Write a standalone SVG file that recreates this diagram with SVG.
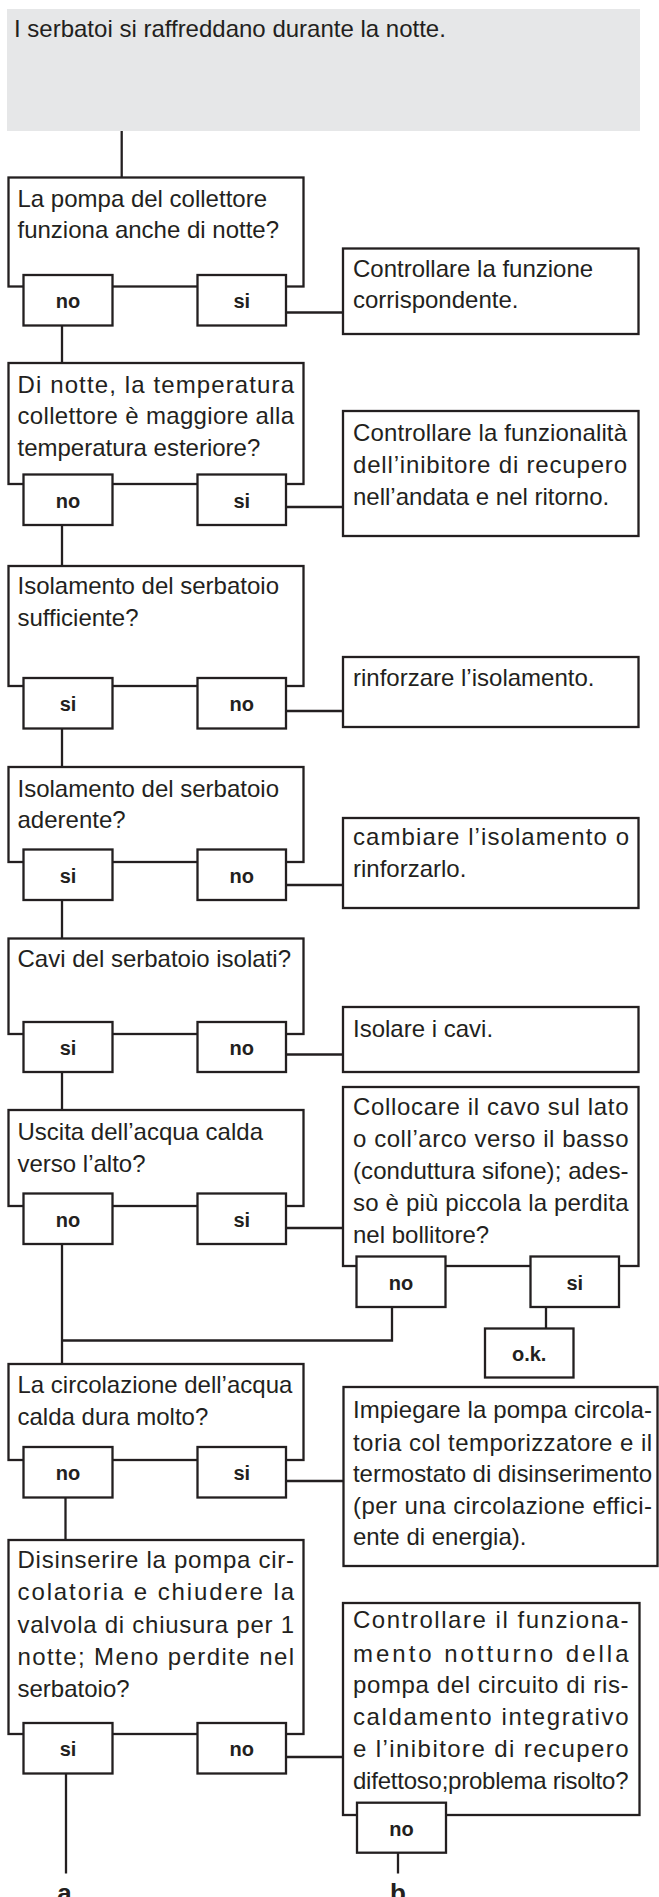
<svg xmlns="http://www.w3.org/2000/svg" width="659" height="1897" viewBox="0 0 659 1897">
<style>
.box{fill:#fff;stroke:#231f20;stroke-width:2.3}
.hdr{fill:#e6e7e8}
.t{font-family:"Liberation Sans",Arial,sans-serif;font-size:24px;fill:#231f20}
.b{font-family:"Liberation Sans",Arial,sans-serif;font-weight:bold;font-size:20px;fill:#231f20;text-anchor:middle}
.L{font-family:"Liberation Sans",Arial,sans-serif;font-weight:bold;font-size:26px;fill:#231f20;text-anchor:middle}
.c{fill:none;stroke:#231f20;stroke-width:2.3}
</style>
<g id="connectors" class="c">
<path d="M121.7 131V177.5"/>
<path d="M286 312.5H343"/>
<path d="M62 325.5V363"/>
<path d="M286 507H343"/>
<path d="M62 525V566"/>
<path d="M286 711H343"/>
<path d="M62 728.5V767"/>
<path d="M286 885H343"/>
<path d="M62 900V938.5"/>
<path d="M286 1054.5H343"/>
<path d="M62 1072V1110"/>
<path d="M286 1228H343"/>
<path d="M62 1244V1364"/>
<path d="M392 1307V1340.5H62"/>
<path d="M546 1307V1328.5"/>
<path d="M286 1481H343.5"/>
<path d="M65.5 1497.5V1540"/>
<path d="M286 1757H343"/>
<path d="M66 1773.5V1873.5"/>
<path d="M398 1852.7V1873.5"/>
</g>
<g id="start">
<rect class="hdr" x="7" y="9" width="633" height="122"/>
<text class="t" x="14" y="37">I serbatoi si raffreddano durante la notte.</text>
</g>
<g id="q1">
<rect class="box" x="8.5" y="177.5" width="295" height="109"/>
<text class="t" x="17.5" y="206.5">La pompa del collettore</text>
<text class="t" x="17.5" y="237.5">funziona anche di notte?</text>
<rect class="box" x="23.5" y="275" width="89" height="50.5"/>
<text class="b" x="68" y="308">no</text>
<rect class="box" x="197.5" y="275" width="88.5" height="50.5"/>
<text class="b" x="241.8" y="308">si</text>
</g>
<g id="a1">
<rect class="box" x="343" y="248.5" width="295.5" height="85.5"/>
<text class="t" x="353" y="276.7">Controllare la funzione</text>
<text class="t" x="353" y="308.3">corrispondente.</text>
</g>
<g id="q2">
<rect class="box" x="8.5" y="363" width="295" height="121"/>
<text class="t" x="17.5" y="392.7" textLength="276.5">Di notte, la temperatura</text>
<text class="t" x="17.5" y="424" textLength="276.5">collettore è maggiore alla</text>
<text class="t" x="17.5" y="456">temperatura esteriore?</text>
<rect class="box" x="23.5" y="474.5" width="89" height="50.5"/>
<text class="b" x="68" y="507.5">no</text>
<rect class="box" x="197.5" y="474.5" width="88.5" height="50.5"/>
<text class="b" x="241.8" y="507.5">si</text>
</g>
<g id="a2">
<rect class="box" x="343" y="411" width="295.5" height="125"/>
<text class="t" x="353" y="440.7" textLength="274">Controllare la funzionalità</text>
<text class="t" x="353" y="472.7" textLength="274">dell’inibitore di recupero</text>
<text class="t" x="353" y="505">nell’andata e nel ritorno.</text>
</g>
<g id="q3">
<rect class="box" x="8.5" y="566" width="295" height="120"/>
<text class="t" x="17.5" y="594">Isolamento del serbatoio</text>
<text class="t" x="17.5" y="626">sufficiente?</text>
<rect class="box" x="23.5" y="678" width="89" height="50.5"/>
<text class="b" x="68" y="711">si</text>
<rect class="box" x="197.5" y="678" width="88.5" height="50.5"/>
<text class="b" x="241.8" y="711">no</text>
</g>
<g id="a3">
<rect class="box" x="343" y="657" width="295.5" height="70"/>
<text class="t" x="353" y="686">rinforzare l’isolamento.</text>
</g>
<g id="q4">
<rect class="box" x="8.5" y="767" width="295" height="95"/>
<text class="t" x="17.5" y="796.7">Isolamento del serbatoio</text>
<text class="t" x="17.5" y="828">aderente?</text>
<rect class="box" x="23.5" y="849.5" width="89" height="50.5"/>
<text class="b" x="68" y="882.5">si</text>
<rect class="box" x="197.5" y="849.5" width="88.5" height="50.5"/>
<text class="b" x="241.8" y="882.5">no</text>
</g>
<g id="a4">
<rect class="box" x="343" y="818" width="295.5" height="90"/>
<text class="t" x="353" y="845" textLength="276">cambiare l’isolamento o</text>
<text class="t" x="353" y="877">rinforzarlo.</text>
</g>
<g id="q5">
<rect class="box" x="8.5" y="938.5" width="295" height="95.5"/>
<text class="t" x="17.5" y="966.5">Cavi del serbatoio isolati?</text>
<rect class="box" x="23.5" y="1022" width="89" height="50"/>
<text class="b" x="68" y="1055">si</text>
<rect class="box" x="197.5" y="1022" width="88.5" height="50"/>
<text class="b" x="241.8" y="1055">no</text>
</g>
<g id="a5">
<rect class="box" x="343" y="1007" width="295.5" height="65"/>
<text class="t" x="353" y="1036.7">Isolare i cavi.</text>
</g>
<g id="q6">
<rect class="box" x="8.5" y="1110" width="295" height="96"/>
<text class="t" x="17.5" y="1140">Uscita dell’acqua calda</text>
<text class="t" x="17.5" y="1171.7">verso l’alto?</text>
<rect class="box" x="23.5" y="1193.5" width="89" height="50.5"/>
<text class="b" x="68" y="1226.5">no</text>
<rect class="box" x="197.5" y="1193.5" width="88.5" height="50.5"/>
<text class="b" x="241.8" y="1226.5">si</text>
</g>
<g id="a6">
<rect class="box" x="343" y="1087" width="295.5" height="179"/>
<text class="t" x="353" y="1115" textLength="275.5">Collocare il cavo sul lato</text>
<text class="t" x="353" y="1147" textLength="275.5">o coll’arco verso il basso</text>
<text class="t" x="353" y="1178.5" textLength="275.5">(conduttura sifone); ades-</text>
<text class="t" x="353" y="1210.5" textLength="275.5">so è più piccola la perdita</text>
<text class="t" x="353" y="1242.5">nel bollitore?</text>
<rect class="box" x="356.5" y="1256.5" width="89" height="50.5"/>
<text class="b" x="401" y="1289.5">no</text>
<rect class="box" x="530.5" y="1256.5" width="88.5" height="50.5"/>
<text class="b" x="574.8" y="1289.5">si</text>
</g>
<g id="ok">
<rect class="box" x="485" y="1328.5" width="88.5" height="49"/>
<text class="b" x="529.2" y="1361">o.k.</text>
</g>
<g id="q7">
<rect class="box" x="8.5" y="1364" width="295" height="96"/>
<text class="t" x="17.5" y="1393.3">La circolazione dell’acqua</text>
<text class="t" x="17.5" y="1425">calda dura molto?</text>
<rect class="box" x="23.5" y="1447" width="89" height="50.5"/>
<text class="b" x="68" y="1480">no</text>
<rect class="box" x="197.5" y="1447" width="88.5" height="50.5"/>
<text class="b" x="241.8" y="1480">si</text>
</g>
<g id="a7">
<rect class="box" x="343.5" y="1387" width="314" height="179"/>
<text class="t" x="353" y="1418" textLength="299">Impiegare la pompa circola-</text>
<text class="t" x="353" y="1450.5" textLength="299">toria col temporizzatore e il</text>
<text class="t" x="353" y="1482" textLength="299">termostato di disinserimento</text>
<text class="t" x="353" y="1514" textLength="299">(per una circolazione effici-</text>
<text class="t" x="353" y="1545">ente di energia).</text>
</g>
<g id="q8">
<rect class="box" x="8.5" y="1540" width="295" height="194"/>
<text class="t" x="17.5" y="1568.3" textLength="276.5">Disinserire la pompa cir-</text>
<text class="t" x="17.5" y="1600" textLength="276.5">colatoria e chiudere la</text>
<text class="t" x="17.5" y="1633.3" textLength="276.5">valvola di chiusura per 1</text>
<text class="t" x="17.5" y="1665" textLength="276.5">notte; Meno perdite nel</text>
<text class="t" x="17.5" y="1696.7">serbatoio?</text>
<rect class="box" x="23.5" y="1723" width="89" height="50.5"/>
<text class="b" x="68" y="1756">si</text>
<rect class="box" x="197.5" y="1723" width="88.5" height="50.5"/>
<text class="b" x="241.8" y="1756">no</text>
</g>
<g id="a8">
<rect class="box" x="343" y="1603" width="296.5" height="212"/>
<text class="t" x="353" y="1628.3" textLength="275.5">Controllare il funziona-</text>
<text class="t" x="353" y="1661.7" textLength="275.5">mento notturno della</text>
<text class="t" x="353" y="1693.3" textLength="275.5">pompa del circuito di ris-</text>
<text class="t" x="353" y="1725" textLength="275.5">caldamento integrativo</text>
<text class="t" x="353" y="1756.7" textLength="275.5">e l’inibitore di recupero</text>
<text class="t" x="353" y="1789.3" textLength="275.5">difettoso;problema risolto?</text>
<rect class="box" x="357" y="1802.7" width="89" height="50"/>
<text class="b" x="401.5" y="1835.7">no</text>
</g>
<g id="label-a"><text class="L" x="64.5" y="1902">a</text></g>
<g id="label-b"><text class="L" x="398" y="1902">b</text></g>
</svg>
